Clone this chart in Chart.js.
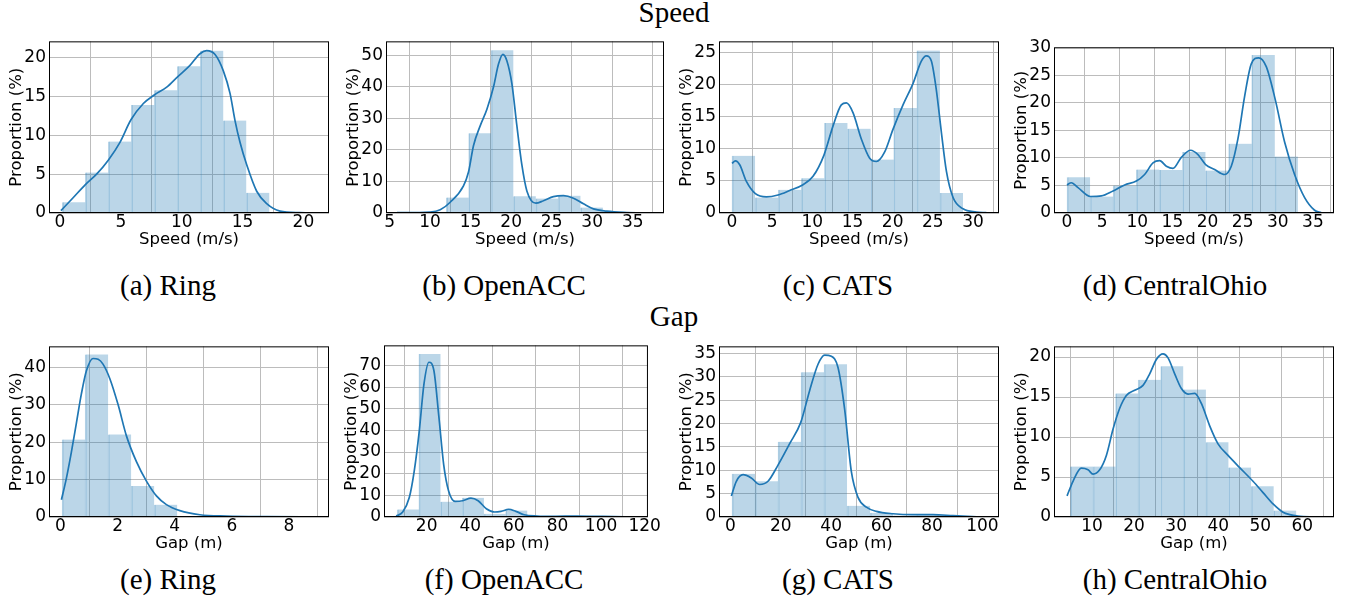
<!DOCTYPE html>
<html>
<head>
<meta charset="utf-8">
<script src="https://cdn.jsdelivr.net/npm/chart.js@4"></script>
<style>
  body { margin: 0; width: 1348px; height: 608px; background: #fff; position: relative; overflow: hidden; }
  canvas { position: absolute; }
  .cap { position: absolute; width: 300px; font-family: 'Liberation Serif', 'Times New Roman', serif; font-size: 29px; line-height: 29px; text-align: center; white-space: nowrap; color: #000; }
</style>
</head>
<body>
<div class="cap" style="left:524px; top:-2px">Speed</div>
<div class="cap" style="left:524px; top:302px">Gap</div>
<div class="cap" style="left:18px; top:271px">(a) Ring</div>
<div class="cap" style="left:354px; top:271px">(b) OpenACC</div>
<div class="cap" style="left:688px; top:271px">(c) CATS</div>
<div class="cap" style="left:1025px; top:271px">(d) CentralOhio</div>
<div class="cap" style="left:18px; top:565px">(e) Ring</div>
<div class="cap" style="left:354px; top:565px">(f) OpenACC</div>
<div class="cap" style="left:688px; top:565px">(g) CATS</div>
<div class="cap" style="left:1025px; top:565px">(h) CentralOhio</div>

<script>
// ---- speed histograms (bin edges, % per bin) and KDE curves ----
const ringSpeedEdges = [0.19, 2.08, 3.97, 5.86, 7.75, 9.64, 11.53, 13.42, 15.31, 17.2];
const ringSpeedPct = [1.4, 5.2, 9.2, 13.9, 15.8, 18.9, 20.9, 11.9, 2.6];
const ringSpeedKdeX = [0.08, 1.1, 2.05, 3.01, 3.97, 4.93, 5.83, 6.85, 7.75, 8.77, 9.64, 10.68, 11.5, 12.05, 12.74, 13.42, 13.97, 14.38, 14.79, 15.34, 16.16, 16.98, 18.08, 19.7, 21.4];
const ringSpeedKdeY = [0.3, 2.0, 3.6, 5.0, 6.8, 9.1, 12.0, 14.1, 15.2, 16.2, 17.5, 19.0, 20.5, 20.9, 20.4, 18.3, 15.4, 11.9, 9.1, 6.2, 2.8, 1.2, 0.25, 0.05, 0];

const openaccSpeedEdges = [6.48, 9.24, 12.0, 14.76, 17.52, 20.28, 23.04, 25.8, 28.56, 31.32, 34.08];
const openaccSpeedPct = [0.1, 0.4, 4.9, 25.3, 51.6, 5.3, 4.6, 5.5, 1.75, 0.3];
const openaccSpeedKdeX = [5.91, 10.02, 11.25, 12.48, 14.12, 14.74, 15.36, 16.18, 17.0, 17.83, 18.44, 18.98, 19.48, 20.09, 20.71, 21.32, 21.94, 23.05, 23.99, 25.22, 26.46, 27.69, 28.92, 30.15, 31.8, 33.85, 37.35];
const openaccSpeedKdeY = [0.1, 0.3, 1.0, 3.4, 8.6, 13.0, 21.4, 27.6, 32.8, 40.0, 47.2, 50.3, 48.2, 41.0, 27.6, 15.3, 7.0, 3.1, 3.9, 5.2, 5.5, 4.7, 2.9, 1.3, 0.6, 0.2, 0];

const catsSpeedEdges = [0, 2.876, 5.752, 8.628, 11.504, 14.38, 17.256, 20.132, 23.008, 25.884, 28.76];
const catsSpeedPct = [8.9, 2.4, 3.6, 5.4, 14.0, 13.1, 8.3, 16.3, 25.25, 3.1];
const catsSpeedKdeX = [0, 0.42, 0.96, 1.79, 2.91, 4.28, 5.73, 7.18, 8.84, 10.09, 11.45, 12.57, 13.61, 14.24, 15.06, 16.1, 17.14, 17.97, 19.01, 20.04, 21.29, 22.53, 23.57, 24.2, 24.82, 25.44, 26.07, 26.69, 27.52, 28.76, 30.42, 31.66];
const catsSpeedKdeY = [7.7, 8.1, 7.5, 4.9, 3.0, 2.5, 2.8, 3.5, 4.4, 5.7, 9.0, 13.5, 16.8, 17.1, 15.6, 11.5, 8.5, 8.0, 9.5, 13.0, 16.8, 20.1, 23.6, 24.4, 23.6, 19.1, 12.5, 6.5, 2.4, 0.65, 0.15, 0.05];

const ohioSpeedEdges = [0, 3.286, 6.572, 9.858, 13.144, 16.43, 19.716, 23.002, 26.288, 29.574, 32.86];
const ohioSpeedPct = [6.5, 3.0, 5.0, 7.9, 7.8, 11.1, 7.7, 12.6, 28.7, 10.25];
const ohioSpeedKdeX = [0, 0.62, 1.57, 3.33, 4.89, 6.55, 8.21, 9.87, 11.05, 12.24, 13.19, 14.14, 15.08, 16.27, 17.6, 18.64, 19.73, 21.01, 22.43, 23.38, 24.33, 25.28, 26.23, 27.27, 28.36, 29.64, 30.97, 32.39, 33.82, 35.24, 36.2];
const ohioSpeedKdeY = [5.1, 5.5, 4.6, 3.0, 3.1, 4.0, 5.1, 5.8, 7.0, 9.1, 9.5, 8.5, 8.1, 10.1, 11.4, 10.6, 8.8, 7.9, 7.0, 8.5, 13.5, 21.2, 27.1, 28.2, 26.6, 20.6, 12.9, 7.0, 2.8, 0.5, 0.05];

// ---- gap histograms and KDE curves ----
const ringGapEdges = [0.058, 0.864, 1.67, 2.476, 3.282, 4.088, 4.894, 5.7, 6.506, 7.312, 8.118, 8.924];
const ringGapPct = [20.7, 43.5, 22.1, 8.3, 3.3, 0.3, 0.1, 0.05, 0.02, 0.01, 0.01];
const ringGapKdeX = [0.035, 0.21, 0.385, 0.56, 0.735, 0.91, 1.14, 1.32, 1.49, 1.73, 2.02, 2.31, 2.66, 3.01, 3.36, 3.71, 4.18, 4.88, 5.81, 7.21, 9.07];
const ringGapKdeY = [4.6, 10.4, 17.4, 25.2, 33.0, 39.1, 42.4, 42.2, 40.9, 37.0, 30.0, 21.7, 14.8, 9.6, 5.65, 3.3, 1.7, 0.6, 0.25, 0.08, 0];

const openaccGapEdges = [6.47, 16.42, 26.37, 36.32, 46.27, 56.22, 66.17, 76.12, 86.07, 96.02, 105.97, 115.92];
const openaccGapPct = [3.5, 75.3, 7.1, 8.9, 1.5, 3.0, 0.3, 0.2, 0.3, 0.1, 0.1];
const openaccGapKdeX = [6.02, 9.02, 12.03, 14.28, 16.54, 18.8, 21.05, 23.31, 25.56, 27.82, 30.07, 33.08, 36.54, 40.3, 43.61, 47.37, 51.13, 54.13, 57.6, 60.9, 64.66, 70.68, 78.2, 88.7, 100.75, 115.8];
const openaccGapKdeY = [0.45, 2.3, 9.0, 21.1, 39.1, 61.7, 71.5, 67.7, 46.7, 24.1, 12.0, 7.2, 7.5, 8.7, 7.5, 3.8, 2.3, 2.6, 3.5, 2.6, 1.05, 0.45, 0.3, 0.45, 0.3, 0];

const catsGapEdges = [0.66, 9.79, 18.92, 28.05, 37.18, 46.31, 55.44, 64.57, 73.7, 82.83, 91.96, 101.09];
const catsGapPct = [9.25, 7.65, 16.1, 30.97, 32.7, 2.4, 0.9, 0.3, 0.4, 0.2, 0.1];
const catsGapKdeX = [0.4, 2.38, 5.03, 8.33, 11.64, 14.95, 18.91, 23.54, 27.91, 31.48, 34.79, 37.43, 40.08, 42.72, 45.37, 48.02, 50.66, 53.97, 57.94, 64.55, 72.49, 80.42, 88.36, 99.6];
const catsGapKdeY = [4.5, 7.65, 9.05, 8.35, 6.96, 7.65, 11.1, 15.7, 20.2, 27.1, 32.7, 34.65, 34.4, 32.0, 23.0, 9.7, 4.2, 2.1, 1.2, 0.7, 0.5, 0.5, 0.3, 0];

const ohioGapEdges = [4.85, 10.22, 15.59, 20.96, 26.33, 31.7, 37.07, 42.44, 47.81, 53.18, 58.55];
const ohioGapPct = [6.3, 6.3, 15.45, 17.15, 18.86, 15.93, 9.35, 6.18, 3.86, 0.81];
const ohioGapKdeX = [4.06, 5.48, 7.46, 9.05, 10.24, 11.82, 13.41, 15.0, 16.58, 18.16, 20.14, 22.12, 23.71, 25.29, 26.88, 28.07, 29.65, 31.24, 32.82, 34.41, 35.99, 37.97, 39.95, 42.33, 45.1, 48.27, 50.65, 53.03, 55.4, 57.0, 59.0, 62.0, 64.5];
const ohioGapKdeY = [2.64, 4.47, 6.1, 5.9, 5.37, 5.9, 7.7, 11.0, 13.6, 15.2, 15.85, 16.46, 17.9, 19.7, 20.4, 19.9, 17.9, 16.06, 15.37, 15.45, 14.2, 11.4, 9.15, 7.7, 6.18, 4.47, 3.05, 1.63, 0.6, 0.3, 0.12, 0.02, 0];

const speedLabel = 'Speed (m/s)';
const gapLabel = 'Gap (m)';
const yLabel = 'Proportion (%)';

// plot box [left, top, right, bottom] in page px, axis ranges [min, max, step]
const panels = [
  { edges: ringSpeedEdges, pct: ringSpeedPct, kx: ringSpeedKdeX, ky: ringSpeedKdeY, xLabel: speedLabel, box: [49, 37, 329, 213], x: [-0.9, 22.1, 5], y: [0, 22.1, 5] },
  { edges: openaccSpeedEdges, pct: openaccSpeedPct, kx: openaccSpeedKdeX, ky: openaccSpeedKdeY, xLabel: speedLabel, box: [386, 37, 664, 213], x: [4.56, 38.86, 5], y: [0, 54.4, 10] },
  { edges: catsSpeedEdges, pct: catsSpeedPct, kx: catsSpeedKdeX, ky: catsSpeedKdeY, xLabel: speedLabel, box: [719, 37, 999, 213], x: [-1.62, 33.24, 5], y: [0, 26.67, 5] },
  { edges: ohioSpeedEdges, pct: ohioSpeedPct, kx: ohioSpeedKdeX, ky: ohioSpeedKdeY, xLabel: speedLabel, box: [1054, 43, 1334, 213], x: [-1.85, 38.0, 5], y: [0, 30.1, 5] },
  { edges: ringGapEdges, pct: ringGapPct, kx: ringGapKdeX, ky: ringGapKdeY, xLabel: gapLabel, box: [49, 342, 329, 517], x: [-0.4, 9.4, 2], y: [0, 45.65, 10] },
  { edges: openaccGapEdges, pct: openaccGapPct, kx: openaccGapKdeX, ky: openaccGapKdeY, xLabel: gapLabel, box: [384, 341, 653, 517], x: [0.43, 121.5, 20], y: [0, 79.3, 10] },
  { edges: catsGapEdges, pct: catsGapPct, kx: catsGapKdeX, ky: catsGapKdeY, xLabel: gapLabel, box: [719, 342, 999, 517], x: [-4.5, 106.6, 20], y: [0, 36.53, 5] },
  { edges: ohioGapEdges, pct: ohioGapPct, kx: ohioGapKdeX, ky: ohioGapKdeY, xLabel: gapLabel, box: [1054, 342, 1334, 517], x: [0.96, 67.52, 10], y: [0, 21.34, 5] }
];

// black frame round the plot area, like matplotlib spines
const framePlugin = {
  id: 'frame',
  afterDraw(chart) {
    const a = chart.chartArea;
    const ctx = chart.ctx;
    ctx.save();
    ctx.strokeStyle = '#000';
    ctx.lineWidth = 1;
    ctx.strokeRect(a.left + 0.5, a.top + 0.5, a.right - a.left - 1, a.bottom - a.top - 1);
    ctx.restore();
  }
};

const tickFont = { family: 'DejaVu Sans', size: 17, lineHeight: 1.1 };
const titleFont = { family: 'DejaVu Sans', size: 16.5 };
const gridColor = '#bcbcbc';

function drawPanel(p) {
    const [L, T, R, B] = p.box;
    const yW = 50, xH = 40, padT = 8, padR = 8;

    const canvas = document.createElement('canvas');
    canvas.width = R - L + yW + padR;
    canvas.height = B - T + padT + xH;
    canvas.style.left = (L - yW) + 'px';
    canvas.style.top = (T - padT) + 'px';
    document.body.appendChild(canvas);

    const bars = p.pct.map((v, i) => ({ x: (p.edges[i] + p.edges[i + 1]) / 2, y: v }));
    const kde = p.kx.map((x, i) => ({ x: x, y: p.ky[i] }));

    new Chart(canvas.getContext('2d'), {
        type: 'bar',
        data: {
            datasets: [{
                type: 'line',
                data: kde,
                borderColor: '#1f77b4',
                borderWidth: 1.7,
                pointRadius: 0,
                cubicInterpolationMode: 'monotone',
                fill: false,
                order: 1
            }, {
                type: 'bar',
                data: bars,
                backgroundColor: 'rgba(31,119,180,0.3)',
                borderColor: 'rgba(31,119,180,0.3)',
                borderWidth: { left: 1, right: 0, top: 0, bottom: 0 },
                barPercentage: 1,
                categoryPercentage: 1,
                order: 2
            }]
        },
        options: {
            responsive: false,
            animation: false,
            events: [],
            layout: { padding: { top: padT, right: padR, left: 0, bottom: 0 } },
            plugins: { legend: { display: false }, tooltip: { enabled: false } },
            scales: {
                x: {
                    type: 'linear',
                    min: p.x[0],
                    max: p.x[1],
                    offset: false,
                    border: { display: false },
                    grid: { color: gridColor, lineWidth: 1, drawTicks: false },
                    ticks: { stepSize: p.x[2], includeBounds: false, maxRotation: 0, autoSkip: false, padding: 0, color: '#000', font: tickFont },
                    title: { display: true, text: p.xLabel, color: '#000', font: titleFont, padding: { top: 0, bottom: 3.5 } },
                    afterFit: s => { s.height = xH; }
                },
                y: {
                    min: p.y[0],
                    max: p.y[1],
                    border: { display: false },
                    grid: { color: gridColor, lineWidth: 1, drawTicks: false },
                    ticks: { stepSize: p.y[2], includeBounds: false, padding: 3, color: '#000', font: tickFont },
                    title: { display: true, text: yLabel, color: '#000', font: titleFont, padding: { top: 7.5, bottom: 0 } },
                    afterFit: s => { s.width = yW; }
                }
            }
        },
        plugins: [framePlugin]
    });
}

panels.forEach(drawPanel);
</script>
</body>
</html>
